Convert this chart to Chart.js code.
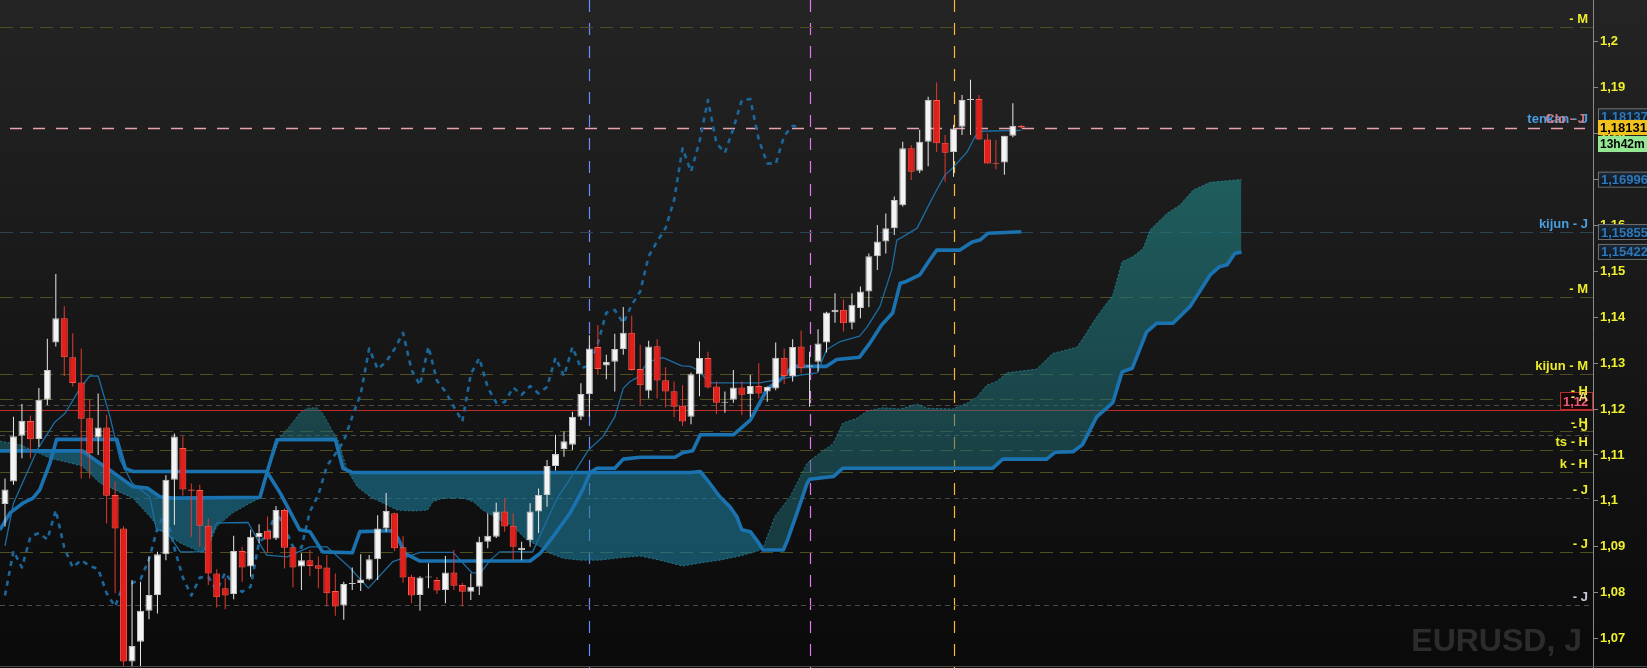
<!DOCTYPE html>
<html><head><meta charset="utf-8">
<script src="https://cdn.jsdelivr.net/npm/chart.js"></script>
<style>html,body{margin:0;padding:0;background:#151515;overflow:hidden}#wrap{width:1647px;height:668px;position:relative}</style>
</head><body><div id="wrap"><canvas id="c"></canvas></div>
<script>
// ---------------- DATA ----------------
const candleOpen  = [1.0993,1.1042,1.1142,1.1174,1.1135,1.1220,1.1345,1.1398,1.1313,1.1258,1.1180,1.1138,1.1160,1.1013,1.0940,1.0650,1.0693,1.0761,1.0795,1.0884,1.1046,1.1115,1.1025,1.1024,1.0946,1.0842,1.0810,1.0797,1.0891,1.0857,1.0921,1.0935,1.0918,1.0980,1.0899,1.0857,1.0871,1.0860,1.0855,1.0804,1.0772,1.0819,1.0821,1.0829,1.0873,1.0940,1.0973,1.0899,1.0835,1.0795,1.0833,1.0828,1.0806,1.0844,1.0817,1.0802,1.0813,1.0911,1.0922,1.0977,1.0946,1.0893,1.0915,1.0977,1.1013,1.1076,1.1113,1.1122,1.1183,1.1233,1.1335,1.1295,1.1303,1.1331,1.1366,1.1287,1.1240,1.1337,1.1263,1.1239,1.1207,1.1183,1.1276,1.1311,1.1249,1.1214,1.1220,1.1247,1.1233,1.1250,1.1238,1.1245,1.1312,1.1272,1.1336,1.1292,1.1303,1.1345,1.1411,1.1416,1.1388,1.1420,1.1456,1.1533,1.1565,1.1594,1.1644,1.1768,1.1719,1.1782,1.1873,1.1780,1.1760,1.1815,1.1873,1.1875,1.1787,1.1736,1.1737,1.1795,1.1817];
const candleHigh  = [1.1049,1.1183,1.1211,1.1186,1.1246,1.1353,1.1494,1.1424,1.1365,1.1332,1.1220,1.1234,1.1187,1.1042,1.0945,1.0828,1.0824,1.0879,1.0889,1.1056,1.1147,1.1141,1.1038,1.1035,1.0962,1.0851,1.0832,1.0924,1.0900,1.0937,1.0949,1.0966,1.0989,1.0984,1.0900,1.0886,1.0893,1.0879,1.0882,1.0842,1.0824,1.0855,1.0884,1.0882,1.0969,1.1017,1.0974,1.0924,1.0839,1.0836,1.0864,1.0834,1.0880,1.0893,1.0821,1.0842,1.0922,1.0973,1.0996,1.1006,1.0973,1.0911,1.0995,1.1027,1.1089,1.1144,1.1151,1.1194,1.1256,1.1361,1.1383,1.1318,1.1364,1.1422,1.1403,1.1340,1.1349,1.1352,1.1291,1.1260,1.1252,1.1279,1.1347,1.1325,1.1260,1.1238,1.1285,1.1260,1.1274,1.1300,1.1249,1.1345,1.1332,1.1352,1.1371,1.1325,1.1374,1.1412,1.1452,1.1439,1.1452,1.1467,1.1539,1.1601,1.1626,1.1663,1.1782,1.1775,1.1808,1.1880,1.1911,1.1797,1.1819,1.1884,1.1917,1.1884,1.1800,1.1786,1.1795,1.1866,1.1819];
const candleLow   = [1.0944,1.1035,1.1093,1.1093,1.1118,1.1209,1.1336,1.1272,1.1249,1.1049,1.1049,1.1100,1.0951,1.0799,1.0640,1.0638,1.0638,1.0742,1.0755,1.0871,1.0948,1.1011,1.0922,1.0900,1.0817,1.0768,1.0764,1.0786,1.0824,1.0835,1.0908,1.0887,1.0915,1.0853,1.0812,1.0806,1.0836,1.0810,1.0770,1.0750,1.0741,1.0806,1.0804,1.0827,1.0828,1.0933,1.0891,1.0822,1.0777,1.0761,1.0810,1.0797,1.0777,1.0806,1.0770,1.0784,1.0795,1.0897,1.0919,1.0933,1.0871,1.0871,1.0900,1.0930,1.0987,1.1066,1.1096,1.1111,1.1176,1.1183,1.1274,1.1265,1.1238,1.1318,1.1284,1.1209,1.1223,1.1223,1.1204,1.1182,1.1163,1.1167,1.1228,1.1245,1.1189,1.1192,1.1214,1.1187,1.1183,1.1223,1.1216,1.1241,1.1254,1.1260,1.1278,1.1205,1.1282,1.1323,1.1388,1.1369,1.1374,1.1398,1.1422,1.1503,1.1539,1.1579,1.1641,1.1699,1.1714,1.1729,1.1760,1.1695,1.1706,1.1797,1.1797,1.1786,1.1734,1.1722,1.1710,1.1792,1.1811];
const candleClose = [1.1025,1.1141,1.1174,1.1134,1.1220,1.1285,1.1398,1.1313,1.1257,1.1179,1.1104,1.1160,1.1011,1.0940,1.0650,1.0684,1.0761,1.0795,1.0884,1.1046,1.1140,1.1025,1.1022,1.0946,1.0842,1.0790,1.0794,1.0891,1.0855,1.0922,1.0930,1.0916,1.0980,1.0898,1.0855,1.0871,1.0858,1.0852,1.0799,1.0770,1.0819,1.0821,1.0829,1.0873,1.0940,1.0978,1.0897,1.0833,1.0794,1.0833,1.0835,1.0805,1.0844,1.0815,1.0802,1.0813,1.0911,1.0924,1.0977,1.0944,1.0900,1.0898,1.0977,1.1013,1.1076,1.1102,1.1130,1.1183,1.1233,1.1332,1.1287,1.1303,1.1331,1.1366,1.1285,1.1252,1.1336,1.1262,1.1238,1.1205,1.1173,1.1276,1.1311,1.1247,1.1214,1.1215,1.1247,1.1231,1.1250,1.1234,1.1248,1.1312,1.1272,1.1335,1.1289,1.1295,1.1343,1.1410,1.1416,1.1387,1.1427,1.1456,1.1533,1.1565,1.1594,1.1655,1.1768,1.1717,1.1782,1.1873,1.1779,1.1758,1.1811,1.1873,1.1875,1.1787,1.1735,1.1734,1.1795,1.1817,1.1813];

// Chikou span: closes drawn 26 bars back
const chikouVal = [1.0794,1.0891,1.0855,1.0922,1.0930,1.0916,1.0980,1.0898,1.0855,1.0871,1.0858,1.0852,1.0799,1.0770,1.0819,1.0821,1.0829,1.0873,1.0940,1.0978,1.0897,1.0833,1.0794,1.0833,1.0835,1.0805,1.0844,1.0815,1.0802,1.0813,1.0911,1.0924,1.0977,1.0944,1.0900,1.0898,1.0977,1.1013,1.1076,1.1102,1.1130,1.1183,1.1233,1.1332,1.1287,1.1303,1.1331,1.1366,1.1285,1.1252,1.1336,1.1262,1.1238,1.1205,1.1173,1.1276,1.1311,1.1247,1.1214,1.1215,1.1247,1.1231,1.1250,1.1234,1.1248,1.1312,1.1272,1.1335,1.1289,1.1295,1.1343,1.1410,1.1416,1.1387,1.1427,1.1456,1.1533,1.1565,1.1594,1.1655,1.1768,1.1717,1.1782,1.1873,1.1779,1.1758,1.1811,1.1873,1.1875,1.1787,1.1735,1.1734,1.1795,1.1817,1.1813];

const tenkanIdx = [0,1,3.8,5.9,7.1,8.9,10,11,12.4,13.6,15,17.1,17.9,19.1,20.7,23.4,25,28.7,30.3,30.9,33.3,36,38,40.7,42.9,45.8,49,52.9,55.1,56.1,57.3,58.4,62.3,64,65.2,66.9,68.9,70.6,72,73,73.8,74.7,75.9,77.7,79.9,80.9,81.8,83.2,86,89.1,90.9,93.9,95.9,97,98.6,100.9,101.8,103.3,104.7,105.3,106,107.7,109.2,110,111,111.9,113.6,114.5,115.1,120];
const tenkanVal = [1.0902,1.0995,1.1111,1.1172,1.1191,1.1246,1.1272,1.1272,1.1183,1.1089,1.1039,1.1009,1.0937,1.0933,1.0889,1.0889,1.0952,1.0953,1.0900,1.0882,1.0878,1.0900,1.0900,1.0855,1.0810,1.0868,1.0888,1.0888,1.0844,1.0842,1.0871,1.0889,1.0889,1.0958,1.1006,1.1053,1.1111,1.1140,1.1183,1.1245,1.1260,1.1269,1.1303,1.1312,1.1294,1.1293,1.1285,1.1257,1.1257,1.1257,1.1263,1.1274,1.1279,1.1329,1.1347,1.1359,1.1379,1.1423,1.1503,1.1568,1.1575,1.1594,1.1649,1.1677,1.1710,1.1725,1.1760,1.1792,1.1805,1.1807];

const kijunIdx = [-0.6,0.6,2.1,3.3,4.1,5.3,6.1,13.2,14.2,15.1,30.9,32.5,34.8,36,37.5,41,41.9,45.7,46.4,47.2,49,62,63.2,64.7,66.7,68.2,69.1,69.9,72,73,75,79.1,80,81.2,82.1,86,88,90,91.5,93,97,98.2,100.9,102.1,103.5,104.8,105.7,106.3,108,109.2,110,112.7,114.2,115.1,116.1,120];
const kijunVal = [1.0937,1.0974,1.0995,1.1006,1.1024,1.1082,1.1134,1.1134,1.1071,1.1064,1.1064,1.1017,1.0937,1.0933,1.0889,1.0887,1.0933,1.0935,1.0919,1.0886,1.0869,1.0869,1.0886,1.0922,1.0973,1.1024,1.1062,1.1071,1.1071,1.1091,1.1095,1.1095,1.1105,1.1109,1.1144,1.1144,1.1176,1.1244,1.1263,1.1293,1.1293,1.1308,1.1313,1.1343,1.1383,1.1409,1.1474,1.1477,1.1492,1.1525,1.1546,1.1546,1.1564,1.1568,1.1583,1.1586];

const senkouAIdx = [-0.6,1.8,3.8,5.3,7.1,9.1,11.2,15.1,17.1,18.3,20.7,23,23.8,25,26.9,28.9,30.1,31.1,32.5,33.6,34.8,35.7,36.8,37.5,38.6,39.3,40.4,41.6,43.1,44.3,46.3,48.2,49.9,50.5,51.7,54.1,55.3,56.4,58.1,60,61.6,63.2,64.3,65.9,67.9,70.2,72.6,75,77.3,80,82.1,84.4,86.8,88.9,89.5,90.9,92.7,94.7,95.4,97.8,98.9,100.6,101.8,103.7,105.7,107.7,108.9,111.9,113.6,114.8,115.9,117.1,118.3,121.8,123.7,126.6,127.7,128.9,130.8,131.9,133.2,134.4,135.2,137.2,138.7,140.3,142.3,146];
const senkouAVal = [1.1130,1.1122,1.1106,1.1093,1.1085,1.1076,1.1039,1.1006,1.0966,1.0937,1.0908,1.0889,1.0893,1.0944,1.0974,1.0995,1.1006,1.1067,1.1140,1.1162,1.1191,1.1202,1.1203,1.1191,1.1154,1.1134,1.1067,1.1031,1.1009,1.0998,1.0980,1.0978,1.0980,1.0998,1.1006,1.1006,1.0998,1.0980,1.0962,1.0944,1.0915,1.0900,1.0886,1.0875,1.0871,1.0871,1.0876,1.0880,1.0871,1.0858,1.0865,1.0871,1.0880,1.0891,1.0898,1.0966,1.1009,1.1082,1.1093,1.1125,1.1169,1.1180,1.1196,1.1203,1.1200,1.1211,1.1202,1.1200,1.1213,1.1227,1.1252,1.1260,1.1279,1.1287,1.1321,1.1335,1.1366,1.1401,1.1448,1.1521,1.1532,1.1550,1.1590,1.1626,1.1644,1.1677,1.1694,1.1700];

const senkouBIdx = [-0.6,9.1,11.2,12.4,15.1,16.8,18.3,19.8,30.1,31.1,32.1,39,39.9,41,80.9,82.1,82.9,84.4,85.6,86.4,87,88,88.9,89.5,91.9,92.4,93.5,94.7,95,97.8,98.9,116.6,117.8,123,124,126.1,127.2,128.9,130.8,131.9,133.1,134.8,136,137.9,139.9,142.3,143.4,144.3,145.2,146];
const senkouBVal = [1.1109,1.1109,1.1082,1.1067,1.1031,1.1028,1.1009,1.1006,1.1008,1.1072,1.1133,1.1134,1.1071,1.1062,1.1062,1.1064,1.1046,1.1009,1.0987,1.0966,1.0937,1.0933,1.0911,1.0893,1.0893,1.0915,1.0973,1.1038,1.1047,1.1053,1.1071,1.1071,1.1091,1.1091,1.1106,1.1107,1.1122,1.1183,1.1214,1.1281,1.1289,1.1368,1.1387,1.1387,1.1423,1.1492,1.1510,1.1514,1.1539,1.1542];

// horizontal level lines and their labels
const levelValues = [1.20322,1.15855,1.14446,1.12757,1.12219,1.12088,1.11526,1.11435,1.11109,1.10624,1.10064,1.08894,1.07734];
const levelLabels = ['- M','kijun - J','- M','kijun - M','- H','- A','- H','- J','ts - H','k - H','- J','- J','- J'];
const levelKinds  = ['olive','blue','olive','olive','olive','gray','olive','gray','olive','olive','gray','olive','gray'];
const lastPrice = 1.18131, lastPriceText = '1,18131';
const refLine = 1.1198, refLineText = '1,12';
const sideBoxValues = [1.18137,1.16996,1.15855,1.15422];
const sideBoxTexts  = ['1,18137','1,16996','1,15855','1,15422'];
const timerText = '13h42m';
const sessionLines = [69,95,112];
const symbolText = 'EURUSD, J';
const yMin = 1.06361, yMax = 1.20908, yStep = 0.01;
const xMin = -0.59, xMax = 187.5;

// ---------------- CHART ----------------
const idx = candleOpen.map((_, i) => i);
const up = idx.map(i => candleClose[i] >= candleOpen[i]);
const pts = (xs, ys) => xs.map((x, k) => ({x, y: ys[k]}));

const canvas = document.getElementById('c');
const c2d = canvas.getContext('2d');
const cloudUp = c2d.createLinearGradient(0, 170, 0, 480);
cloudUp.addColorStop(0, 'rgba(32,130,130,0.64)');
cloudUp.addColorStop(1, 'rgba(30,104,114,0.52)');
const cloudDown = 'rgba(28,124,154,0.60)';

const FONT = '"Liberation Sans", Arial, sans-serif';
const dashStyles = {
  olive: {color: '#4f4f22', dash: [13, 7]},
  gray:  {color: '#4a4a4a', dash: [5, 4]},
  blue:  {color: '#2b4555', dash: [13, 7]}
};
const labelColors = {'- M':'#ecec2c','kijun - J':'#4a9fe0','kijun - M':'#ecec2c','- H':'#ecec2c','- A':'#e6e07a','ts - H':'#ecec2c','k - H':'#ecec2c','- J':'#ecec2c'};

const bgPlugin = {
  id: 'bg',
  beforeDraw(chart) {
    const {ctx, width, height} = chart;
    const g = ctx.createLinearGradient(0, 0, 0, height);
    g.addColorStop(0, '#242424');
    g.addColorStop(1, '#0a0a0a');
    ctx.save(); ctx.fillStyle = g; ctx.fillRect(0, 0, width, height); ctx.restore();
  }
};

const levelsPlugin = {
  id: 'levels',
  beforeDatasetsDraw(chart) {
    const {ctx, chartArea: a, scales: {x, y}} = chart;
    ctx.save();
    // watermark
    ctx.font = 'bold 32px ' + FONT;
    ctx.fillStyle = '#2c2c2c';
    ctx.textAlign = 'right'; ctx.textBaseline = 'alphabetic';
    ctx.fillText(symbolText, a.right - 11, 651);
    ctx.lineWidth = 1.2;
    // vertical session lines
    const vcol = ['#6a8cff', '#e874f5', '#ffb82e'];
    sessionLines.forEach((v, k) => {
      const px = Math.round(x.getPixelForValue(v)) + 0.5;
      ctx.strokeStyle = vcol[k]; ctx.setLineDash([12, 11]);
      ctx.beginPath(); ctx.moveTo(px, a.top); ctx.lineTo(px, a.bottom); ctx.stroke();
    });
    ctx.lineWidth = 1;
    // level lines
    levelValues.forEach((v, k) => {
      const st = dashStyles[levelKinds[k]];
      const py = Math.round(y.getPixelForValue(v)) + 0.5;
      ctx.strokeStyle = st.color; ctx.setLineDash(st.dash);
      ctx.beginPath(); ctx.moveTo(a.left, py); ctx.lineTo(a.right, py); ctx.stroke();
    });
    // reference red line
    ctx.setLineDash([]);
    ctx.strokeStyle = '#c42c2c';
    let py = Math.round(y.getPixelForValue(refLine)) + 0.5;
    ctx.beginPath(); ctx.moveTo(a.left, py); ctx.lineTo(a.right, py); ctx.stroke();
    // last price pink dashed
    ctx.strokeStyle = '#e8a2ac'; ctx.lineWidth = 1.4; ctx.setLineDash([12, 11]);
    py = Math.round(y.getPixelForValue(lastPrice)) + 0.5;
    ctx.beginPath(); ctx.moveTo(a.left + 10, py); ctx.lineTo(a.right - 8, py); ctx.stroke();
    ctx.restore();
  },
  afterDraw(chart) {
    const {ctx, chartArea: a, scales: {y}} = chart;
    ctx.save();
    // bottom frame line
    ctx.strokeStyle = '#4a4a4a'; ctx.lineWidth = 1;
    ctx.beginPath(); ctx.moveTo(0, 666.5); ctx.lineTo(chart.width, 666.5); ctx.stroke();
    ctx.font = 'bold 13px ' + FONT;
    ctx.textAlign = 'right'; ctx.textBaseline = 'alphabetic';
    // red reference box
    let py = y.getPixelForValue(refLine);
    ctx.fillStyle = '#160606'; ctx.fillRect(a.right - 33, py - 18, 33, 18);
    ctx.strokeStyle = '#b83030'; ctx.strokeRect(a.right - 32.5, py - 17.5, 32, 17);
    ctx.fillStyle = '#e85a7a'; ctx.textAlign = 'left';
    ctx.fillText(refLineText, a.right - 30, py - 4);
    ctx.textAlign = 'right';
    // level labels
    levelValues.forEach((v, k) => {
      const p = y.getPixelForValue(v);
      const t = levelLabels[k];
      let col = labelColors[t] || '#ecec2c';
      if (k === levelValues.length - 1) col = '#c9c9dc';
      ctx.fillStyle = col;
      ctx.fillText(t, a.right - 5, p - 4);
    });
    // last price labels
    py = y.getPixelForValue(lastPrice);
    ctx.fillStyle = '#4a9fe0'; ctx.fillText('tenkan - J', a.right - 5, py - 5);
    ctx.fillStyle = 'rgba(236,130,140,0.85)'; ctx.fillText('Clo - J', a.right - 8, py - 5);
    // right axis boxes
    const bx = a.right + 5;
    const blueBox = (v, text, dy) => {
      const p = y.getPixelForValue(v) + dy;
      const g = ctx.createLinearGradient(0, p - 8, 0, p + 8);
      g.addColorStop(0, '#1d2a36'); g.addColorStop(1, '#0c141c');
      ctx.fillStyle = g; ctx.fillRect(bx, p - 8, 60, 16);
      ctx.strokeStyle = '#6f6f6f'; ctx.strokeRect(bx + 0.5, p - 7.5, 60, 15);
      ctx.fillStyle = '#2e78bb'; ctx.textAlign = 'left'; ctx.textBaseline = 'middle';
      ctx.fillText(text, bx + 3, p + 1);
    };
    blueBox(sideBoxValues[0], sideBoxTexts[0], -11);
    // last price yellow box + timer
    ctx.fillStyle = '#f2c21c'; ctx.fillRect(bx, py - 7.5, 60, 15);
    ctx.fillStyle = '#000'; ctx.textAlign = 'left'; ctx.textBaseline = 'middle';
    ctx.fillText(lastPriceText, bx + 2, py + 0.5);
    ctx.fillStyle = '#94e894'; ctx.fillRect(bx, py + 8.5, 60, 16);
    ctx.fillStyle = '#000'; ctx.font = 'bold 12px ' + FONT;
    ctx.fillText(timerText, bx + 2, py + 17);
    ctx.font = 'bold 13px ' + FONT;
    for (let k = 1; k < sideBoxValues.length; k++) blueBox(sideBoxValues[k], sideBoxTexts[k], 0);
    ctx.restore();
  }
};

const commonLine = {type: 'line', pointRadius: 0, pointHoverRadius: 0, pointHitRadius: 0, tension: 0, borderJoinStyle: 'round', fill: false};

new Chart(canvas, {
  type: 'bar',
  data: {
    datasets: [
      { label: 'wick', data: idx.map(i => ({x: i, y: [candleLow[i], candleHigh[i]]})),
        backgroundColor: idx.map(i => up[i] ? '#e8e8e8' : '#e23a30'),
        barThickness: 1, borderWidth: 0, inflateAmount: 0, grouped: false, order: 1 },
      { label: 'body', data: idx.map(i => ({x: i, y: [candleOpen[i], candleClose[i]]})),
        backgroundColor: idx.map(i => up[i] ? '#f4f4f4' : '#e31f1c'),
        borderColor: idx.map(i => up[i] ? '#c4c4c4' : '#ff5a4c'),
        borderWidth: 1, borderSkipped: false, barThickness: 7, minBarLength: 1, inflateAmount: 0, grouped: false, order: 0 },
      Object.assign({}, commonLine, { label: 'tenkan', data: pts(tenkanIdx, tenkanVal), borderColor: '#1b6da3', borderWidth: 1.3, order: 3 }),
      Object.assign({}, commonLine, { label: 'kijun', data: pts(kijunIdx, kijunVal), borderColor: '#1a73b0', borderWidth: 3.6, order: 2 }),
      Object.assign({}, commonLine, { label: 'chikou', data: chikouVal.map((v, i) => ({x: i, y: v})), borderColor: '#1b679b', borderWidth: 2.6, borderDash: [5, 5], order: 4 }),
      Object.assign({}, commonLine, { label: 'senkouA', data: pts(senkouAIdx, senkouAVal), borderColor: 'rgba(40,140,160,0.75)', borderWidth: 1, borderDash: [2, 2],
        fill: {target: 6, above: cloudUp, below: cloudDown}, order: 10 }),
      Object.assign({}, commonLine, { label: 'senkouB', data: pts(senkouBIdx, senkouBVal), borderColor: '#1a73b0', borderWidth: 3.6, order: 9 })
    ]
  },
  options: {
    responsive: true, maintainAspectRatio: false, animation: false, devicePixelRatio: 1,
    layout: {padding: 0},
    events: [],
    plugins: {legend: {display: false}, tooltip: {enabled: false}},
    scales: {
      x: {type: 'linear', min: xMin, max: xMax, display: false, offset: false},
      y: {
        position: 'right', min: yMin, max: yMax,
        afterFit(s) { s.width = 54; s.paddingTop = 0; s.paddingBottom = 0; },
        grid: {drawOnChartArea: false, drawTicks: true, tickLength: 5, color: '#8a8a8a'},
        border: {color: '#8a8a8a'},
        ticks: {stepSize: yStep, includeBounds: false, autoSkip: false, padding: 2, color: '#f0f02c',
          font: {family: FONT, size: 13, weight: 'bold'},
          callback: v => Number(v.toFixed(2)).toString().replace('.', ',')}
      }
    }
  },
  plugins: [bgPlugin, levelsPlugin]
});
</script>
</body></html>
